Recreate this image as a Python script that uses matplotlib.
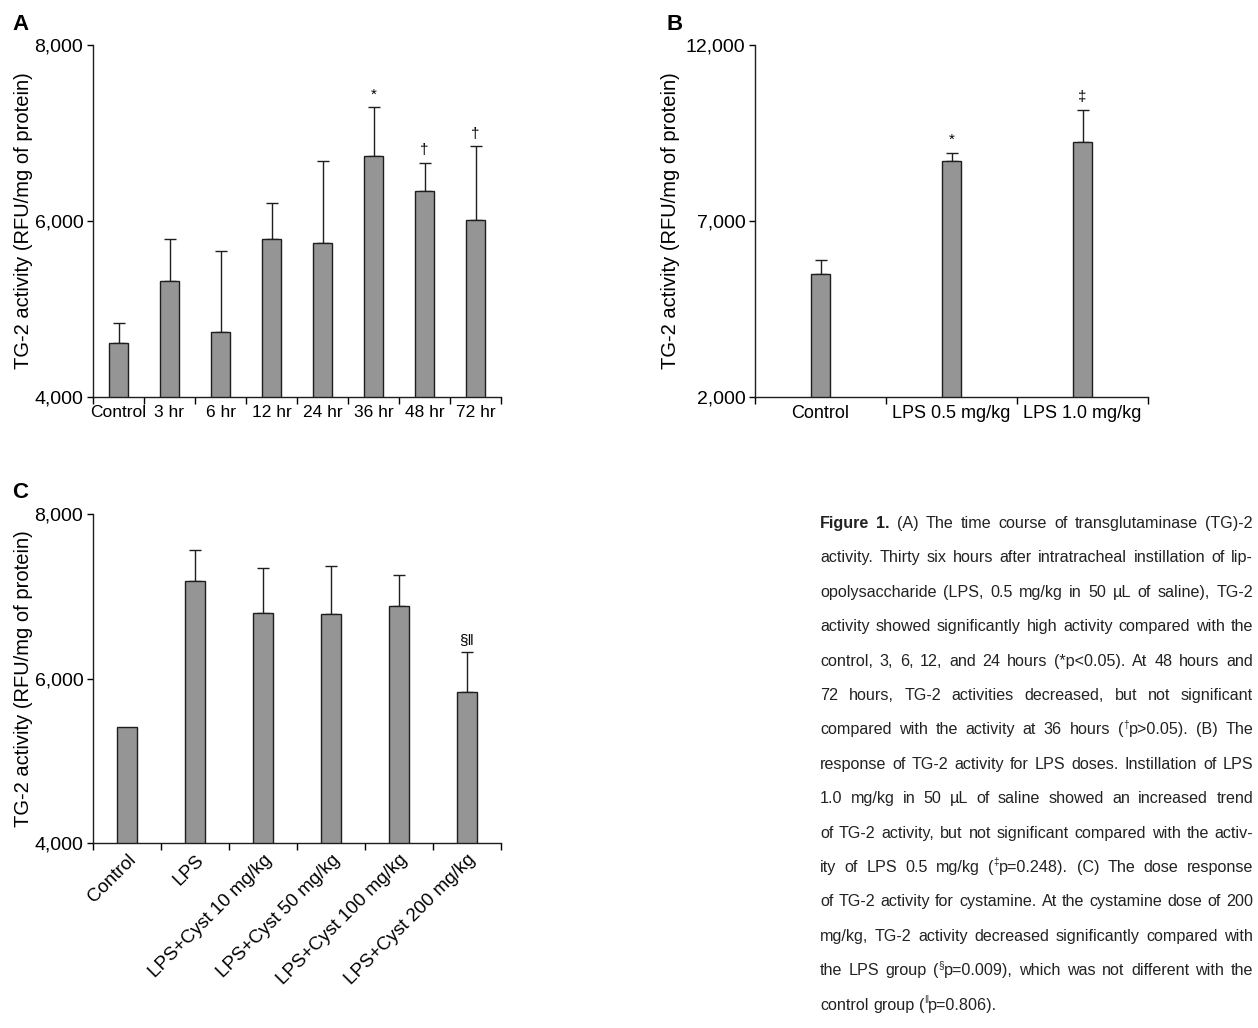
import numpy as np
import matplotlib.pyplot as plt
from matplotlib.ticker import FuncFormatter, FixedLocator
from matplotlib.transforms import IdentityTransform

plt.rcParams['font.family'] = ['Liberation Sans', 'DejaVu Sans']

# panel A: time course
time_labels = ['Control', '3 hr', '6 hr', '12 hr', '24 hr', '36 hr', '48 hr', '72 hr']
time_means = [4618, 5323, 4743, 5795, 5754, 6739, 6337, 6008]
time_errs = [220, 470, 920, 414, 928, 556, 326, 841]
time_marks = ['', '', '', '', '', '*', '†', '†']

# panel B: LPS dose
dose_labels = ['Control', 'LPS 0.5 mg/kg', 'LPS 1.0 mg/kg']
dose_means = [5486, 8716, 9236]
dose_errs = [400, 230, 930]
dose_marks = ['', '*', '‡']

# panel C: cystamine dose
cyst_labels = ['Control', 'LPS', 'LPS+Cyst 10 mg/kg', 'LPS+Cyst 50 mg/kg',
               'LPS+Cyst 100 mg/kg', 'LPS+Cyst 200 mg/kg']
cyst_means = [5405, 7182, 6794, 6785, 6887, 5830]
cyst_errs = [0, 381, 554, 587, 376, 490]
cyst_marks = ['', '', '', '', '', '§‖']

caption_lines = [
    "Figure 1. (A) The time course of transglutaminase (TG)-2",
    "activity. Thirty six hours after intratracheal instillation of lip-",
    "opolysaccharide (LPS, 0.5 mg/kg in 50 µL of saline), TG-2",
    "activity showed significantly high activity compared with the",
    "control, 3, 6, 12, and 24 hours (*p<0.05). At 48 hours and",
    "72 hours, TG-2 activities decreased, but not significant",
    "compared with the activity at 36 hours (^†p>0.05). (B) The",
    "response of TG-2 activity for LPS doses. Instillation of LPS",
    "1.0 mg/kg in 50 µL of saline showed an increased trend",
    "of TG-2 activity, but not significant compared with the activ-",
    "ity of LPS 0.5 mg/kg (^‡p=0.248). (C) The dose response",
    "of TG-2 activity for cystamine. At the cystamine dose of 200",
    "mg/kg, TG-2 activity decreased significantly compared with",
    "the LPS group (^§p=0.009), which was not different with the",
    "control group (^‖p=0.806).",
]
cap_fonts = ['Liberation Sans', 'Noto Sans CJK KR', 'DejaVu Sans']

BAR_COLOR = '#959595'
EDGE = '#1e1e1e'


def draw_panel(ax, labels, means, errs, marks, ylim, yticks, width,
               xsize=12.5, rotate=False):
    x = np.arange(len(labels))
    ax.bar(x, means, width=width, color=BAR_COLOR, edgecolor=EDGE, linewidth=1.0, zorder=2)
    errs = np.asarray(errs)
    means = np.asarray(means)
    has = errs > 0
    ax.errorbar(x[has], means[has], yerr=[np.zeros(has.sum()), errs[has]], fmt='none',
                ecolor=EDGE, elinewidth=1.0, capsize=4, capthick=1.0, zorder=1)
    for xi, m, e, s in zip(x, means, errs, marks):
        if s:
            ax.annotate(s, (xi, m + e), xytext=(0, 4), textcoords='offset points',
                        ha='center', va='bottom', fontsize=11)
    ax.set_xlim(-0.5, len(labels) - 0.5)
    ax.set_ylim(*ylim)
    ax.set_yticks(yticks)
    ax.yaxis.set_major_formatter(FuncFormatter(lambda v, p: f'{v:,.0f}'))
    ax.set_xticks(x)
    ax.xaxis.set_minor_locator(FixedLocator(np.arange(len(labels) + 1) - 0.5))
    ax.tick_params(axis='x', which='major', length=0, pad=6, labelsize=xsize)
    ax.tick_params(axis='x', which='minor', length=5, width=1, direction='out')
    ax.tick_params(axis='y', length=4, width=1, pad=3, labelsize=14)
    if rotate:
        ax.set_xticklabels(labels, rotation=45, ha='right', rotation_mode='anchor')
    else:
        ax.set_xticklabels(labels)
    for side in ['top', 'right']:
        ax.spines[side].set_visible(False)
    for side in ['left', 'bottom']:
        ax.spines[side].set_linewidth(1.0)
        ax.spines[side].set_color(EDGE)
    ax.set_ylabel('TG-2 activity (RFU/mg of protein)', fontsize=14.5)


def parse_word(word):
    segs = []
    buf = ''
    i = 0
    while i < len(word):
        if word[i] == '^':
            if buf:
                segs.append((buf, False))
                buf = ''
            segs.append((word[i + 1], True))
            i += 2
        else:
            buf += word[i]
            i += 1
    if buf:
        segs.append((buf, False))
    return segs


def draw_caption(fig, lines, x0, x1, y_top, dy, size):
    # justified caption, positioned in pixels
    renderer = fig.canvas.get_renderer()
    H = fig.bbox.height
    px = fig.dpi / 72
    rows = []
    for n, line in enumerate(lines):
        words = []
        for k, w in enumerate(line.split(' ')):
            bold = (n == 0 and k < 2)
            objs = []
            for txt, sup in parse_word(w):
                t = fig.text(0, 0, txt, transform=IdentityTransform(),
                             fontweight='bold' if bold else 'normal',
                             family=cap_fonts, va='baseline', ha='left', color='#222222')
                objs.append((t, sup))
            words.append(objs)
        rows.append(words)

    def measure(s):
        for words in rows:
            for objs in words:
                for t, sup in objs:
                    t.set_fontsize(s * 0.62 if sup else s)
        return [[[t.get_window_extent(renderer).width for t, _ in objs] for objs in words]
                for words in rows]

    # shrink font until the widest line fits with normal word spacing
    widths = measure(size)
    natural = max(sum(sum(w) for w in ws) + (len(ws) - 1) * size * 0.28 * px
                  for ws in widths[:-1])
    size = size * (x1 - x0) / natural * 0.99
    widths = measure(size)

    for n, (words, ws_line) in enumerate(zip(rows, widths)):
        y = H - (y_top + n * dy)
        total = sum(sum(w) for w in ws_line)
        if n == len(rows) - 1:
            gap = size * 0.28 * px
        else:
            gap = (x1 - x0 - total) / (len(words) - 1)
        xp = x0
        for objs, ws in zip(words, ws_line):
            for (t, sup), w in zip(objs, ws):
                t.set_position((xp, y + (size * 0.42 * px if sup else 0)))
                xp += w
            xp += gap


fig = plt.figure(figsize=(12.58, 10.28), dpi=100)
W, H = 1258, 1028

axA = fig.add_axes([93 / W, 1 - 397 / H, 408 / W, 352 / H])
draw_panel(axA, time_labels, time_means, time_errs, time_marks,
           (4000, 8000), [4000, 6000, 8000], 0.37, xsize=12.5)
axA.yaxis.set_label_coords(-0.147, 0.5)

axB = fig.add_axes([755 / W, 1 - 397 / H, 393 / W, 352 / H])
draw_panel(axB, dose_labels, dose_means, dose_errs, dose_marks,
           (2000, 12000), [2000, 7000, 12000], 0.145, xsize=13)
axB.yaxis.set_label_coords(-0.19, 0.5)

axC = fig.add_axes([93 / W, 1 - 843 / H, 408 / W, 329 / H])
draw_panel(axC, cyst_labels, cyst_means, cyst_errs, cyst_marks,
           (4000, 8000), [4000, 6000, 8000], 0.28, xsize=13.5, rotate=True)
axC.yaxis.set_label_coords(-0.147, 0.5)

for letter, (lx, ly) in zip('ABC', [(12, 30), (667, 30), (12, 498)]):
    fig.text(lx / W, 1 - ly / H, letter, fontsize=16, fontweight='bold', va='baseline')

draw_caption(fig, caption_lines, 820, 1253, 528, 34.4, 14)

fig.savefig('out.png', dpi=100)
